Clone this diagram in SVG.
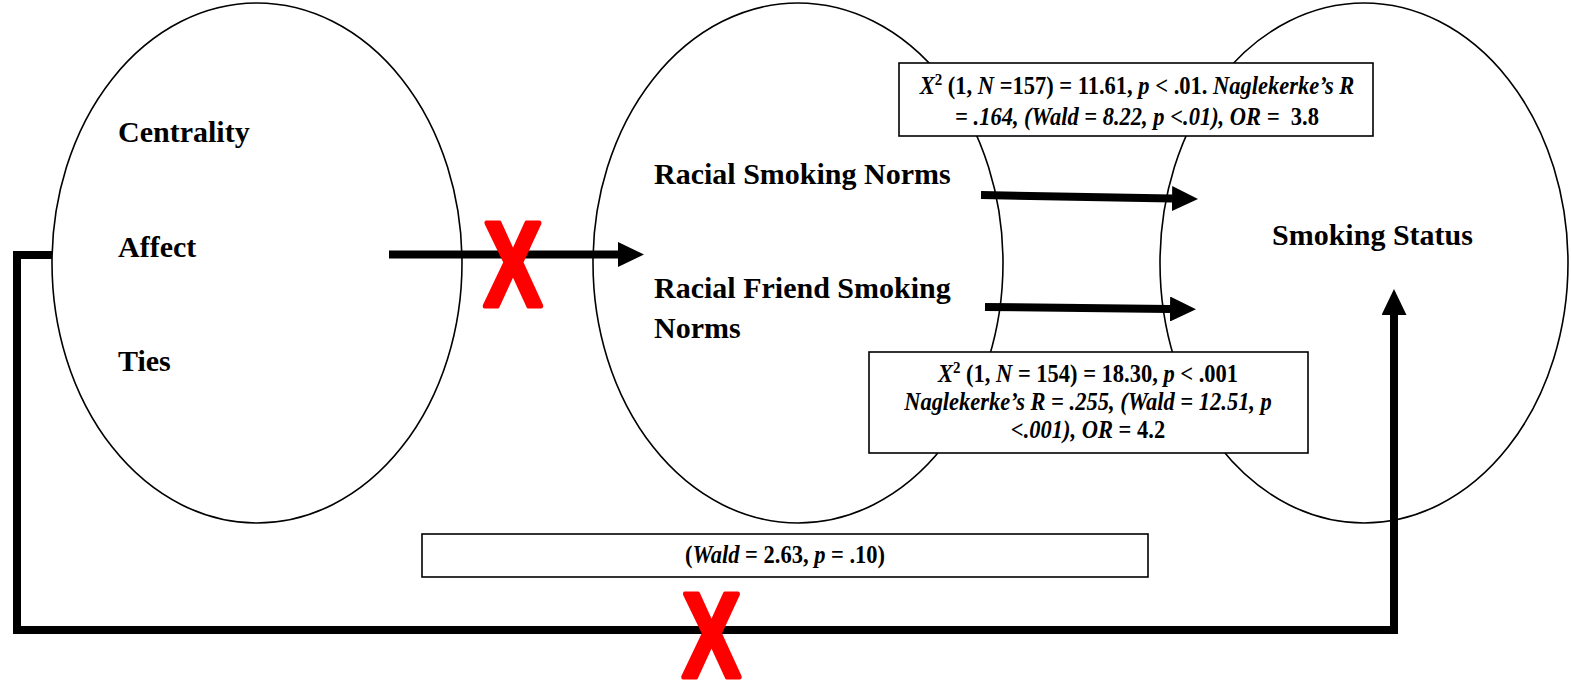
<svg xmlns="http://www.w3.org/2000/svg" width="1571" height="684" viewBox="0 0 1571 684">
  <style>
    .node { fill: none; stroke: #000; stroke-width: 1.6; }
    .box { fill: #fff; stroke: #000; stroke-width: 1.6; }
    .lbl { font-family: "Liberation Serif", "Times New Roman", serif; font-weight: bold; font-size: 30px; fill: #000; }
    .stat { font-family: "Liberation Serif", "Times New Roman", serif; font-weight: bold; font-size: 22.5px; fill: #000; text-anchor: middle; }
    .it { font-style: italic; }
    .sup { font-size: 15px; }
    .conn { fill: none; stroke: #000; stroke-width: 8; }
    .cross { font-family: "Liberation Sans", Arial, sans-serif; font-weight: bold; font-size: 120px; fill: #ff0000; stroke: #ff0000; stroke-width: 5; stroke-linejoin: round; text-anchor: middle; }
  </style>
  <defs>
    <marker id="head" viewBox="0 0 26 25" refX="0" refY="12.5" markerWidth="26" markerHeight="25" markerUnits="userSpaceOnUse" orient="auto">
      <path d="M0,0 L26,12.5 L0,25 Z" fill="#000"/>
    </marker>
  </defs>

  <g id="node-network">
    <ellipse class="node" cx="257" cy="263" rx="205" ry="260"/>
    <text class="lbl" x="118" y="142">Centrality</text>
    <text class="lbl" x="118" y="257">Affect</text>
    <text class="lbl" x="118" y="371">Ties</text>
  </g>

  <g id="node-norms">
    <ellipse class="node" cx="798" cy="263" rx="205" ry="260"/>
    <text class="lbl" x="654" y="184">Racial Smoking Norms</text>
    <text class="lbl" x="654" y="298">Racial Friend Smoking</text>
    <text class="lbl" x="654" y="338">Norms</text>
  </g>

  <g id="node-status">
    <ellipse class="node" cx="1364" cy="263" rx="204" ry="260"/>
    <text class="lbl" x="1272" y="245">Smoking Status</text>
  </g>

  <g id="connectors">
    <line class="conn" x1="389" y1="254.5" x2="618" y2="254.5" marker-end="url(#head)"/>
    <line class="conn" x1="981" y1="195" x2="1172" y2="198.5" marker-end="url(#head)"/>
    <line class="conn" x1="985" y1="307" x2="1170" y2="309" marker-end="url(#head)"/>
    <path class="conn" d="M52,255 H17 V630 H1394 V315" marker-end="url(#head)"/>
  </g>

  <g id="label-top">
    <rect class="box" x="899" y="63" width="474" height="73"/>
    <text class="stat" transform="translate(1137,94) scale(1,1.15)"><tspan class="it">X</tspan><tspan class="sup" dy="-8">2</tspan><tspan dy="8"> (1, </tspan><tspan class="it">N</tspan> =157) = 11.61, <tspan class="it">p</tspan> &lt; .01. <tspan class="it">Naglekerke’s R</tspan></text>
    <text class="stat" transform="translate(1137,125) scale(1,1.15)" xml:space="preserve"><tspan class="it">= .164, (Wald = 8.22, p &lt;.01), OR = </tspan> 3.8</text>
  </g>

  <g id="label-bottom">
    <rect class="box" x="869" y="352" width="439" height="101"/>
    <text class="stat" transform="translate(1088,382) scale(1,1.15)"><tspan class="it">X</tspan><tspan class="sup" dy="-8">2</tspan><tspan dy="8"> (1, </tspan><tspan class="it">N</tspan> = 154) = 18.30, <tspan class="it">p</tspan> &lt; .001</text>
    <text class="stat it" transform="translate(1088,410) scale(1,1.15)">Naglekerke’s R = .255, (Wald = 12.51, p</text>
    <text class="stat" transform="translate(1088,438) scale(1,1.15)"><tspan class="it">&lt;.001), OR</tspan> = 4.2</text>
  </g>

  <g id="label-direct">
    <rect class="box" x="422" y="534" width="726" height="43"/>
    <text class="stat" transform="translate(785,563) scale(1,1.1)">(<tspan class="it">Wald</tspan> = 2.63, <tspan class="it">p</tspan> = .10)</text>
  </g>

  <g id="cross-marks">
    <text class="cross" transform="translate(513,306) scale(0.73,1)">X</text>
    <text class="cross" transform="translate(711.5,677) scale(0.73,1)">X</text>
  </g>
</svg>
